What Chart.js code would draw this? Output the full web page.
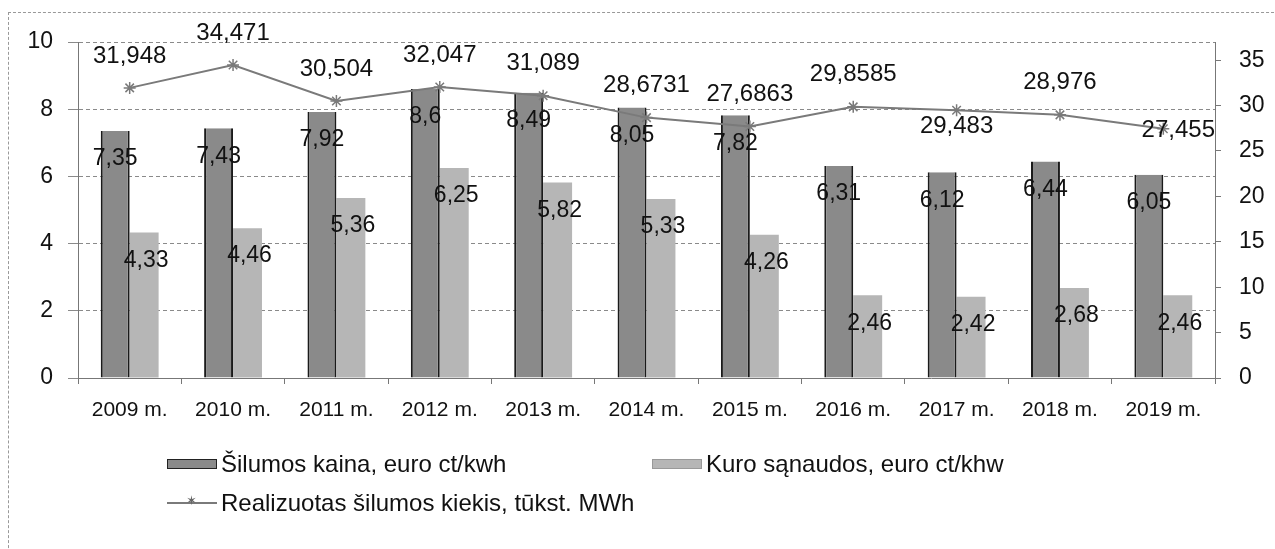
<!DOCTYPE html>
<html>
<head>
<meta charset="utf-8">
<script src="https://cdn.jsdelivr.net/npm/chart.js@4.4.1/dist/chart.umd.min.js"></script>
<style>
  html, body { margin: 0; padding: 0; background: #fff; }
  #wrap { position: relative; width: 1275px; height: 549px; overflow: hidden; }
  #frame { position: absolute; left: 8px; top: 12px; width: 1280px; height: 560px; border-left: 1px dashed #999; border-top: 1px dashed #999; }
  canvas { position: absolute; left: 0; top: 0; }
  .legend { position: absolute; font-family: "Liberation Sans", Arial, sans-serif; font-size: 24px; color: #111; display: flex; align-items: center; height: 30px; }
  .swatch { display: inline-block; width: 50px; height: 10px; margin-right: 4px; box-sizing: border-box; }
</style>
</head>
<body>
<div id="wrap">
  <div id="frame"></div>
  <canvas id="chart" width="1275" height="549"></canvas>
  <div id="legend"></div>
</div>
<script>
// Chart data
const years = ['2009 m.', '2010 m.', '2011 m.', '2012 m.', '2013 m.', '2014 m.', '2015 m.', '2016 m.', '2017 m.', '2018 m.', '2019 m.'];
const heatPrice = [7.35, 7.43, 7.92, 8.6, 8.49, 8.05, 7.82, 6.31, 6.12, 6.44, 6.05];
const fuelCost = [4.33, 4.46, 5.36, 6.25, 5.82, 5.33, 4.26, 2.46, 2.42, 2.68, 2.46];
const heatSold = [31.948, 34.471, 30.504, 32.047, 31.089, 28.6731, 27.6863, 29.8585, 29.483, 28.976, 27.455];
// where the line labels sit relative to their point
const lineLabelPlace = ['above', 'above', 'above', 'above', 'above', 'above', 'above', 'above', 'below', 'above', 'right'];

const leftTicks = [0, 2, 4, 6, 8, 10];
const rightTicks = [0, 5, 10, 15, 20, 25, 30, 35];

const FONT = '"Liberation Sans", Arial, sans-serif';

function fmt(v) {
  return String(v).replace('.', ',');
}

// Draw value labels like the Excel original
const valueLabels = {
  id: 'valueLabels',
  afterDatasetsDraw(chart) {
    const ctx = chart.ctx;
    ctx.save();
    ctx.font = '23px ' + FONT;
    ctx.fillStyle = '#111';
    ctx.textAlign = 'center';
    ctx.textBaseline = 'middle';
    [0, 1].forEach(di => {
      const meta = chart.getDatasetMeta(di);
      meta.data.forEach((bar, i) => {
        const v = chart.data.datasets[di].data[i];
        ctx.fillText(fmt(v), bar.x + (di === 1 ? 2 : 0), bar.y + 28);
      });
    });
    const lineMeta = chart.getDatasetMeta(2);
    ctx.font = '24px ' + FONT;
    lineMeta.data.forEach((pt, i) => {
      const v = chart.data.datasets[2].data[i];
      const place = lineLabelPlace[i];
      if (place === 'below') {
        ctx.fillText(fmt(v), pt.x, pt.y + 16);
      } else if (place === 'right') {
        ctx.fillText(fmt(v), pt.x + 15, pt.y + 2);
      } else {
        ctx.fillText(fmt(v), pt.x, pt.y - 32);
      }
    });
    ctx.restore();
  }
};

const chart = new Chart(document.getElementById('chart'), {
  type: 'bar',
  data: {
    labels: years,
    datasets: [
      {
        label: 'Šilumos kaina, euro ct/kwh',
        data: heatPrice,
        backgroundColor: '#8a8a8a',
        borderColor: '#1a1a1a',
        borderWidth: { left: 2, right: 2, top: 0, bottom: 0 },
        yAxisID: 'y',
        order: 2,
        categoryPercentage: 0.56,
        barPercentage: 1.0
      },
      {
        label: 'Kuro sąnaudos, euro ct/khw',
        data: fuelCost,
        backgroundColor: '#b6b6b6',
        borderWidth: 0,
        yAxisID: 'y',
        order: 2,
        categoryPercentage: 0.56,
        barPercentage: 1.0
      },
      {
        type: 'line',
        label: 'Realizuotas šilumos kiekis, tūkst. MWh',
        data: heatSold,
        borderColor: '#7a7a7a',
        backgroundColor: '#7a7a7a',
        borderWidth: 2,
        pointStyle: 'star',
        pointRadius: 6,
        pointBorderWidth: 1.5,
        tension: 0,
        yAxisID: 'y1',
        order: 1
      }
    ]
  },
  options: {
    responsive: false,
    animation: false,
    layout: { padding: { left: 8, right: 0, top: 42, bottom: 109 } },
    plugins: {
      legend: { display: false },
      tooltip: { enabled: false }
    },
    scales: {
      x: {
        offset: true,
        grid: { offset: true, drawOnChartArea: false, drawTicks: true, tickLength: 6, color: '#777' },
        border: { color: '#777', dash: [4, 3] },
        ticks: { color: '#111', font: { family: FONT, size: 21 }, padding: 14, maxRotation: 0 },
        afterFit(scale) { scale.height = 62; }
      },
      y: {
        position: 'left',
        min: 0,
        max: 10,
        afterBuildTicks(scale) { scale.ticks = leftTicks.map(v => ({ value: v })); },
        grid: { color: '#8a8a8a', tickLength: 10 },
        border: { color: '#777', dash: [4, 3] },
        ticks: { color: '#111', font: { family: FONT, size: 23 }, padding: 15 },
        afterFit(scale) { scale.width = 70; }
      },
      y1: {
        position: 'right',
        min: 0,
        max: 37,
        afterBuildTicks(scale) { scale.ticks = rightTicks.map(v => ({ value: v })); },
        grid: { drawOnChartArea: false, color: '#777', tickLength: 6 },
        border: { color: '#777', dash: [4, 3] },
        ticks: { color: '#111', font: { family: FONT, size: 23 }, padding: 18 },
        afterFit(scale) { scale.width = 60; }
      }
    }
  },
  plugins: [valueLabels]
});

// HTML legend below the plot
const legend = document.getElementById('legend');
const legendPlaces = [
  { left: 167, top: 449, kind: 'box', color: '#8a8a8a', border: '#222' },
  { left: 652, top: 449, kind: 'box', color: '#b6b6b6', border: '#999' },
  { left: 167, top: 488, kind: 'line', color: '#7a7a7a' }
];
chart.data.datasets.forEach((ds, i) => {
  const p = legendPlaces[i];
  const item = document.createElement('div');
  item.className = 'legend';
  item.style.left = p.left + 'px';
  item.style.top = p.top + 'px';
  const sw = document.createElement('span');
  sw.className = 'swatch';
  if (p.kind === 'box') {
    sw.style.background = p.color;
    sw.style.border = '1px solid ' + p.border;
  } else {
    sw.style.height = '2px';
    sw.style.background = p.color;
    sw.style.position = 'relative';
    sw.innerHTML = '<span style="position:absolute;left:19px;top:-9px;font-size:13px;color:#666;">✶</span>';
  }
  item.appendChild(sw);
  const txt = document.createElement('span');
  txt.textContent = ds.label;
  item.appendChild(txt);
  legend.appendChild(item);
});
</script>
</body>
</html>
